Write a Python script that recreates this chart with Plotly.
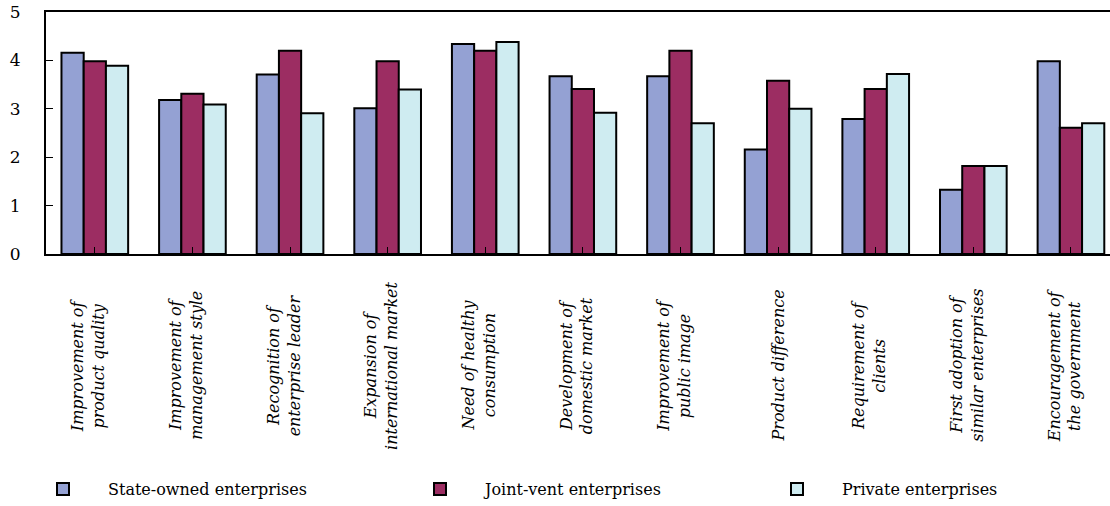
import plotly.graph_objects as go

categories = [
    "Improvement of<br>product quality",
    "Improvement of<br>management style",
    "Recognition of<br>enterprise leader",
    "Expansion of<br>international market",
    "Need of healthy<br>consumption",
    "Development of<br>domestic market",
    "Improvement of<br>public image",
    "Product difference",
    "Requirement of<br>clients",
    "First adoption of<br>similar enterprises",
    "Encouragement of<br>the government",
]
state_owned = [4.16, 3.18, 3.71, 3.01, 4.34, 3.67, 3.67, 2.16, 2.79, 1.33, 3.98]
joint_vent = [3.98, 3.31, 4.20, 3.98, 4.20, 3.41, 4.20, 3.58, 3.41, 1.82, 2.61]
private = [3.89, 3.09, 2.91, 3.40, 4.38, 2.92, 2.70, 3.00, 3.72, 1.82, 2.70]
series_names = ["State-owned enterprises", "Joint-vent enterprises", "Private enterprises"]
y_ticks = [0, 1, 2, 3, 4, 5]

colors = ["#94A1D3", "#9C2D62", "#CFECF1"]
serif = "DejaVu Serif"
legend_ids = ["legend", "legend2", "legend3"]
legend_x = [18, 395, 752]  # px from left

x_idx = list(range(len(categories)))
fig = go.Figure()
for name, vals, col, lg in zip(series_names, [state_owned, joint_vent, private], colors, legend_ids):
    fig.add_trace(go.Bar(
        x=x_idx, y=vals, name=name, legend=lg,
        marker=dict(color=col, line=dict(color="black", width=2)),
    ))

for i, lab in enumerate(categories):
    fig.add_annotation(
        x=i, y=-0.46, xref="x", yref="paper",
        text="<i>" + lab + "</i>", showarrow=False,
        textangle=-90, xanchor="center", yanchor="middle",
        align="center", xshift=-6 if "<br>" in lab else 0,
        font=dict(family=serif, size=16, color="black"),
    )

legend_common = dict(
    orientation="h", xref="container", yref="container",
    y=-0.02, xanchor="left", yanchor="bottom",
    font=dict(family=serif, size=16, color="black"),
    itemwidth=80, bgcolor="rgba(0,0,0,0)",
)
fig.update_layout(
    width=1110, height=506,
    margin=dict(l=46, r=0, t=12, b=252),
    paper_bgcolor="white", plot_bgcolor="white",
    barmode="group", bargap=0.317, bargroupgap=0,
    showlegend=True,
    legend=dict(x=legend_x[0] / 1110, **legend_common),
    legend2=dict(x=legend_x[1] / 1110, **legend_common),
    legend3=dict(x=legend_x[2] / 1110, **legend_common),
    xaxis=dict(
        range=[-0.5, 10.40], tickvals=x_idx, ticktext=[""] * len(x_idx),
        showline=True, linecolor="black", linewidth=2, mirror=True,
        ticks="inside", tickson="boundaries", ticklen=7, tickwidth=1, tickcolor="black",
        showgrid=False, zeroline=False,
    ),
    yaxis=dict(
        range=[0, 5], tickvals=y_ticks,
        showline=True, linecolor="black", linewidth=2,
        ticks="inside", ticklen=7, tickwidth=1, tickcolor="black",
        showgrid=False, zeroline=False,
        tickfont=dict(family=serif, size=17, color="black"),
        ticklabelstandoff=20,
    ),
)

fig.write_html("out.html")
